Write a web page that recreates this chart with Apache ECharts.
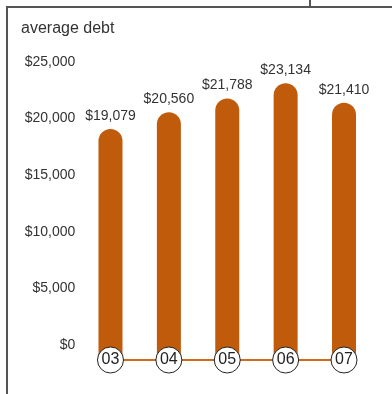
<!DOCTYPE html>
<html>
<head>
<meta charset="utf-8">
<script src="https://cdn.jsdelivr.net/npm/echarts@6/dist/echarts.min.js"></script>
<style>
html,body{margin:0;padding:0;background:#fff;}
#wrap{position:relative;width:392px;height:394px;overflow:hidden;}
#chart{position:absolute;left:0;top:0;width:392px;height:394px;}
.fr{position:absolute;background:#555;}
</style>
</head>
<body>
<div id="wrap">
<div id="chart"></div>
<div class="fr" style="left:6px;top:6px;width:386px;height:2px;"></div>
<div class="fr" style="left:6px;top:6px;width:2px;height:388px;"></div>
<div class="fr" style="left:309px;top:0;width:2px;height:7px;"></div>
</div>
<script>
const years = ['03', '04', '05', '06', '07'];
const debt = [19079, 20560, 21788, 23134, 21410];
const yTicks = [0, 5000, 10000, 15000, 20000, 25000];
const baseOffset = -1325;

const fmt = v => '$' + v.toLocaleString('en-US');
const FONT = 'Liberation Sans, Arial, sans-serif';
const ORANGE = '#BF5B0B';

const chart = echarts.init(document.getElementById('chart'), null, {renderer: 'canvas'});
chart.setOption({
  animation: false,
  title: {
    text: 'average debt', left: 16, top: 16,
    textStyle: {fontFamily: FONT, fontSize: 16, fontWeight: 'normal', color: '#333'}
  },
  grid: {left: 81.3, right: 18.8, top: 39.4, bottom: 34, containLabel: false},
  xAxis: {
    type: 'category', data: years, boundaryGap: true,
    axisLine: {show: false}, axisTick: {show: false}, axisLabel: {show: false}, splitLine: {show: false}
  },
  yAxis: {
    type: 'value', min: baseOffset, max: 27000,
    axisLine: {show: false}, axisTick: {show: false}, splitLine: {show: false},
    axisLabel: {
      customValues: yTicks, margin: 6,
      formatter: v => fmt(v),
      fontFamily: FONT, fontSize: 14, color: '#333'
    }
  },
  series: [
    {
      type: 'bar', stack: 'd', barWidth: 24,
      data: years.map(() => baseOffset),
      itemStyle: {color: ORANGE}, silent: true
    },
    {
      type: 'bar', stack: 'd', barWidth: 24,
      data: debt,
      itemStyle: {color: ORANGE, borderRadius: [12, 12, 0, 0]},
      label: {
        show: true, position: 'top', distance: 6,
        formatter: p => fmt(p.value),
        fontFamily: FONT, fontSize: 14, color: '#333'
      }
    },
    {
      type: 'line', data: years.map(() => baseOffset),
      symbol: 'none', lineStyle: {color: '#D26A1C', width: 2}, z: 3
    },
    {
      type: 'scatter', data: years.map(() => baseOffset),
      symbol: 'circle', symbolSize: 26, z: 5,
      itemStyle: {color: '#fff', borderColor: '#222', borderWidth: 1, opacity: 1},
      label: {
        show: true, position: 'inside', formatter: p => p.name,
        fontFamily: FONT, fontSize: 16, color: '#222'
      }
    }
  ]
});
</script>
</body>
</html>
